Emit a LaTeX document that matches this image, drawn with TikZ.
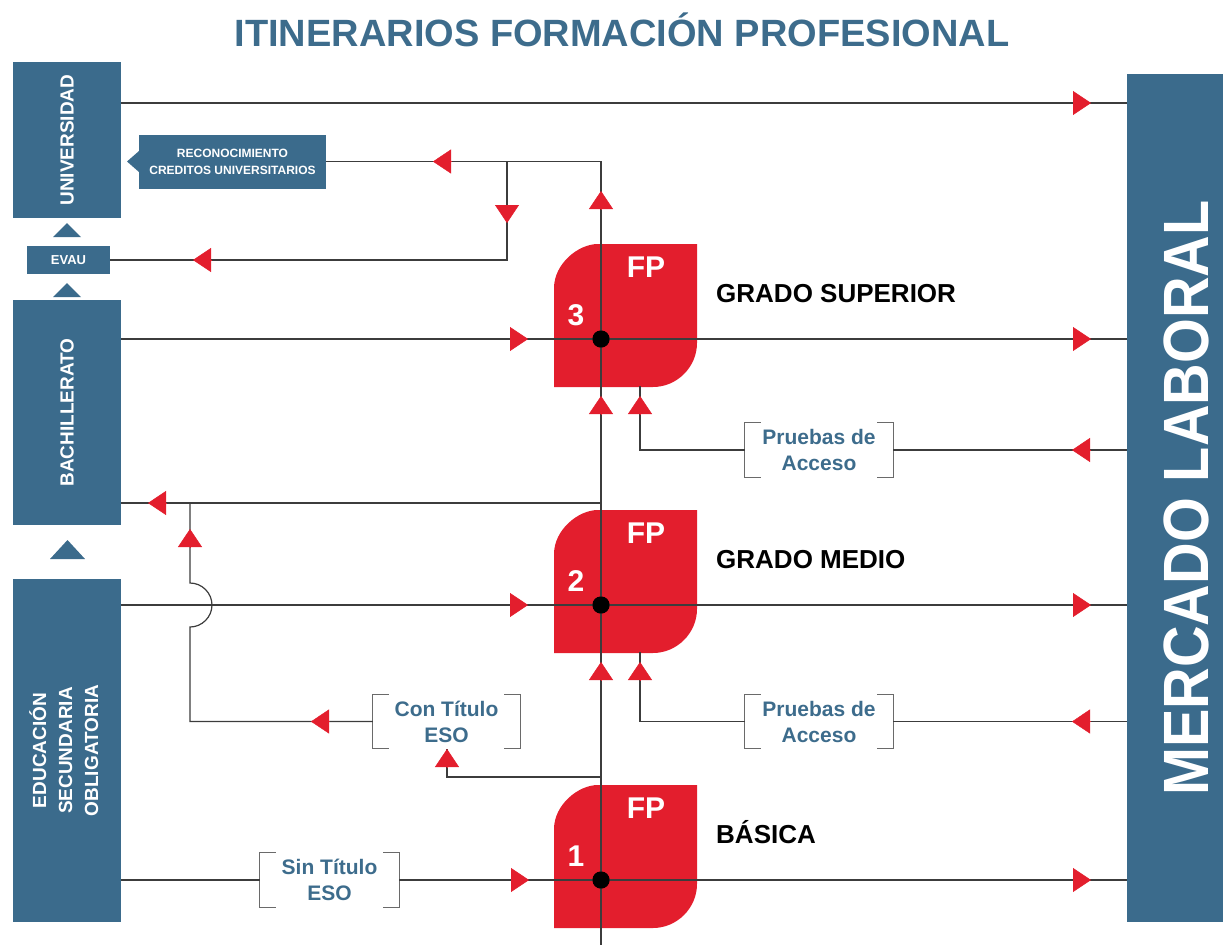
\documentclass[tikz,border=0pt]{standalone}
\usepackage{fontspec}
\setmainfont{Liberation Sans}
\usetikzlibrary{arrows.meta}
\definecolor{boxblue}{HTML}{3B6B8C}
\definecolor{fpred}{HTML}{E31E2D}
\definecolor{txtblue}{HTML}{3D6C8C}
\definecolor{linegray}{HTML}{3C3C3C}
\definecolor{brgray}{HTML}{6A6A6A}
\tikzset{
  bluebox/.style={fill=boxblue, text=white, inner sep=0pt, font=\bfseries\fontsize{19}{26}\selectfont},
  conn/.style={draw=linegray, line width=1.2pt},
  redarr/.style={fpred, -{Triangle[length=18pt,width=24pt]}},
  fplabel/.style={text=white, inner sep=0pt, anchor=base, font=\bfseries\fontsize{30}{30}\selectfont},
  grado/.style={inner sep=0pt, anchor=base west, font=\bfseries\fontsize{26}{26}\selectfont},
  bracketbox/.style={text=txtblue, align=center, inner sep=0pt, minimum height=54pt, font=\bfseries\fontsize{21}{26}\selectfont},
  fpdot/.style={circle, fill=black, minimum size=17pt, inner sep=0pt}
}
\newcommand\fpbrackets[1]{\draw[brgray, line width=1.1pt]
  ([xshift=16pt]#1.north west) -| (#1.south west) -- ([xshift=16pt]#1.south west)
  ([xshift=-16pt]#1.north east) -| (#1.south east) -- ([xshift=-16pt]#1.south east);}
\begin{document}
\begin{tikzpicture}[x=1pt,y=-1pt]
\useasboundingbox (0,0) rectangle (1223,951);

\node[inner sep=0pt, anchor=base, text=txtblue, font=\bfseries\fontsize{38}{38}\selectfont] (title) at (622,46) {ITINERARIOS FORMACIÓN PROFESIONAL};

\foreach \t/\n/\g in {244/3/GRADO SUPERIOR, 510/2/GRADO MEDIO, 785/1/BÁSICA}{
  \begin{scope}[shift={(0,\t)}]
    \fill[fpred] (554,143) -- (554,44) .. controls (554,20) and (578,0) .. (598,0) -- (697,0)
      -- (697,99) .. controls (697,123) and (677,143) .. (653,143) -- cycle;
    \node[fplabel] (fp\n) at (646,33) {FP};
    \node[fplabel] (num\n) at (576,81) {\n};
    \node[grado] (grado\n) at (716,58) {\g};
    \node[fpdot] (dot\n) at (601,95) {};
  \end{scope}
}

\node[bluebox, minimum width=108pt, minimum height=156pt] (uni) at (67,140) {\rotatebox{90}{UNIVERSIDAD}};
\node[bluebox, minimum width=83pt, minimum height=28pt, font=\bfseries\fontsize{13}{13}\selectfont] (evau) at (68.5,260) {EVAU};
\node[bluebox, minimum width=108pt, minimum height=225pt] (bach) at (67,412.5) {\rotatebox{90}{BACHILLERATO}};
\node[bluebox, minimum width=108pt, minimum height=343pt] (eso) at (67,750.5) {\rotatebox{90}{\begin{tabular}{@{}c@{}}EDUCACIÓN\\SECUNDARIA\\OBLIGATORIA\end{tabular}}};
\node[bluebox, minimum width=96pt, minimum height=848pt, font=\bfseries\fontsize{64}{64}\selectfont] (merc) at (1175,498) {\rotatebox{90}{\raisebox{0pt}[66pt][0pt]{\scalebox{0.9}[1]{MERCADO LABORAL}}}};
\node[bluebox, minimum width=187pt, minimum height=54pt, align=center, font=\bfseries\fontsize{12}{17}\selectfont] (recon) at (232.5,161.5) {RECONOCIMIENTO\\CREDITOS UNIVERSITARIOS};
\fill[boxblue] (139,151) -- (127,161.5) -- (139,172) -- cycle;

\fill[boxblue] (53,237) -- (81,237) -- (67,223) -- cycle;
\fill[boxblue] (53,297) -- (81,297) -- (67,283) -- cycle;
\fill[boxblue] (50,559) -- (85,559) -- (67.5,540) -- cycle;

\node[bracketbox, minimum width=148pt] (acc3) at (819,450) {Pruebas de\\Acceso};
\node[bracketbox, minimum width=148pt] (acc2) at (819,721.5) {Pruebas de\\Acceso};
\node[bracketbox, minimum width=147pt] (con) at (446.5,721.5) {Con Título\\ESO};
\node[bracketbox, minimum width=139pt] (sin) at (329.5,880) {Sin Título\\ESO};
\foreach \b in {acc3,acc2,con,sin} {\fpbrackets{\b}}

\coordinate (r1) at (0,103);
\coordinate (tb) at (601,945);
\coordinate (br) at (507,161.5);
\coordinate (jb) at (601,503);
\coordinate (hop) at (190,503);
\coordinate (jc) at (601,777);
\coordinate (ct) at (447,777);

\draw[conn] (uni.east |- r1) -- (merc.west |- r1);
\draw[conn] (recon.east) -| (tb);
\draw[conn] (br) |- (evau.east);
\draw[conn] (bach.east |- dot3) -- (merc.west |- dot3);
\draw[conn] (eso.east |- dot2) -- (merc.west |- dot2);
\draw[conn] (eso.east |- dot1) -- (sin.west) (sin.east) -- (merc.west |- dot1);
\draw[conn] (jb) -- (bach.east |- jb);
\draw[conn] (hop) -- (190,583) .. controls (202,583) and (212,593) .. (212,605)
  .. controls (212,617) and (202,627) .. (190,627) |- (con.west);
\draw[conn] (jc) -- (ct) -- (ct |- con.south);
\draw[conn] (640,386) |- (acc3.west) (acc3.east) -- (merc.west |- acc3.east);
\draw[conn] (640,652) |- (acc2.west) (acc2.east) -- (merc.west |- acc2.east);

\foreach \n in {3,2,1} \node[fpdot] at (dot\n) {};

\foreach \x/\y in {1073/103, 510/339, 1073/339, 510/605, 1073/605, 511/880, 1073/880}
  \draw[redarr] (\x,\y) -- +(18,0);
\foreach \x/\y in {451/161.5, 211/260, 166/503, 329/721.5, 1090/450, 1090/721.5}
  \draw[redarr] (\x,\y) -- +(-18,0);
\foreach \x/\y in {601/209, 601/414, 640/414, 601/680, 640/680, 190/547, 447/767}
  \draw[redarr] (\x,\y) -- +(0,-18);
\draw[redarr] (507,205) -- +(0,18);
\end{tikzpicture}
\end{document}
